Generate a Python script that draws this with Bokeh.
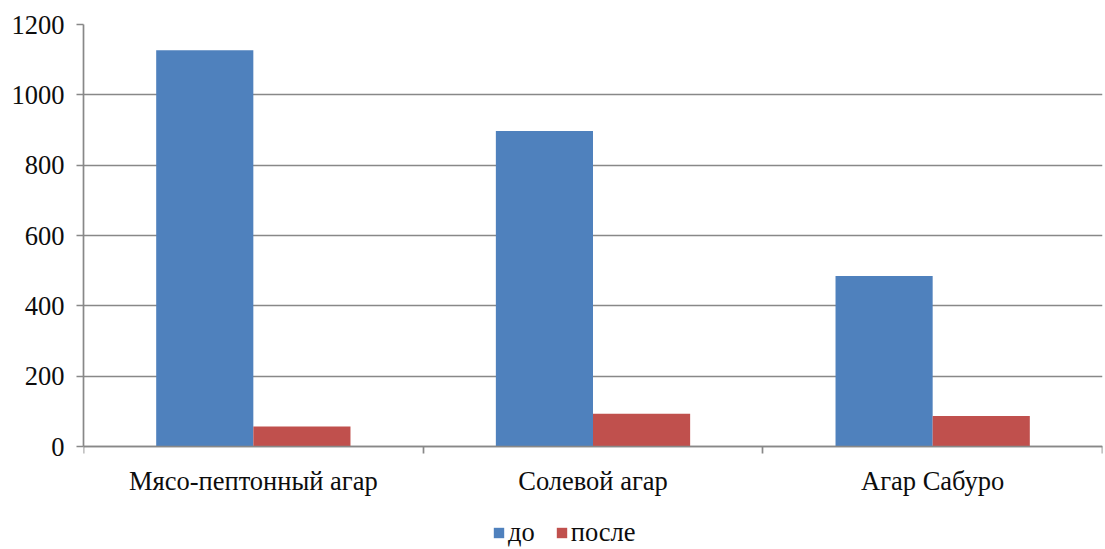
from bokeh.plotting import figure
from bokeh.models import FixedTicker, Legend, LegendItem, LinearAxis, Range1d
from bokeh.embed import file_html
from bokeh.resources import INLINE

# Colony counts on three culture media, before and after treatment
categories = ["Мясо-пептонный агар", "Солевой агар", "Агар Сабуро"]
before = [1127, 897, 485]
after = [57, 93, 87]
series_names = ["до", "после"]
y_ticks = [0, 200, 400, 600, 800, 1000, 1200]

BLUE = "#4F81BD"
RED = "#C0504D"
GRID = "#888888"
FONT = "Liberation Serif"
FONT_SIZE = "26.5px"

W, H = 1105, 549
TOP, LEFT, RIGHT = 24, 83, 3
PLOT_H = 422          # pixel height of the 0..1200 value band
Y_MAX = 1200
# the frame runs to the bottom edge; the space under zero holds the
# category labels and the legend
frame_h = H - TOP
y_start = Y_MAX - Y_MAX * frame_h / PLOT_H

bar_w = 0.286
centers = [i + 0.5 for i in range(len(categories))]
x_before = [c - bar_w / 2 for c in centers]
x_after = [c + bar_w / 2 for c in centers]

p = figure(
    width=W, height=H,
    x_range=Range1d(0, len(categories)), y_range=Range1d(y_start, Y_MAX),
    output_backend="svg", toolbar_location=None,
    x_axis_location=None,
    min_border_left=LEFT, min_border_right=RIGHT,
    min_border_top=TOP, min_border_bottom=0,
)
p.outline_line_color = None
p.background_fill_color = "white"
p.border_fill_color = "white"

r1 = p.vbar(x=x_before, top=before, width=bar_w, color=BLUE, line_color=None)
r2 = p.vbar(x=x_after, top=after, width=bar_w, color=RED, line_color=None)

# grid
p.xgrid.grid_line_color = None
p.ygrid.grid_line_color = GRID
p.ygrid.grid_line_width = 1.7
p.ygrid.ticker = FixedTicker(ticks=y_ticks)

# y axis
p.yaxis.ticker = FixedTicker(ticks=y_ticks)
p.yaxis.bounds = (0, Y_MAX)
p.yaxis.axis_line_color = GRID
p.yaxis.axis_line_width = 1.7
p.yaxis.major_tick_line_color = GRID
p.yaxis.major_tick_line_width = 1.7
p.yaxis.major_tick_in = 0
p.yaxis.major_tick_out = 7
p.yaxis.minor_tick_line_color = None
p.yaxis.major_label_text_font = FONT
p.yaxis.major_label_text_font_size = FONT_SIZE
p.yaxis.major_label_text_color = "#0d0d0d"
p.yaxis.major_label_standoff = 12

# x axis on the zero line: labels at category centres, ticks on boundaries
xaxis = LinearAxis(
    fixed_location=0,
    ticker=FixedTicker(ticks=centers, minor_ticks=list(range(len(categories) + 1))),
    major_label_overrides={c: name for c, name in zip(centers, categories)},
    axis_line_color=GRID, axis_line_width=1.7,
    major_tick_line_color=None, major_tick_in=0, major_tick_out=7,
    minor_tick_line_color=GRID, minor_tick_line_width=1.7,
    minor_tick_in=0, minor_tick_out=7,
    major_label_text_font=FONT, major_label_text_font_size=FONT_SIZE,
    major_label_text_color="#0d0d0d", major_label_standoff=12,
)
p.add_layout(xaxis, "below")

legend = Legend(
    items=[LegendItem(label=series_names[0], renderers=[r1]),
           LegendItem(label=series_names[1], renderers=[r2])],
    orientation="horizontal",
    location=(409, 1),
    glyph_width=13, glyph_height=13,
    label_text_font=FONT, label_text_font_size=FONT_SIZE,
    label_text_color="#0d0d0d",
    label_standoff=3, spacing=20, padding=0, margin=0,
    border_line_color=None, background_fill_alpha=0,
)
p.add_layout(legend, "center")

open("out.html", "w").write(file_html(p, INLINE))
